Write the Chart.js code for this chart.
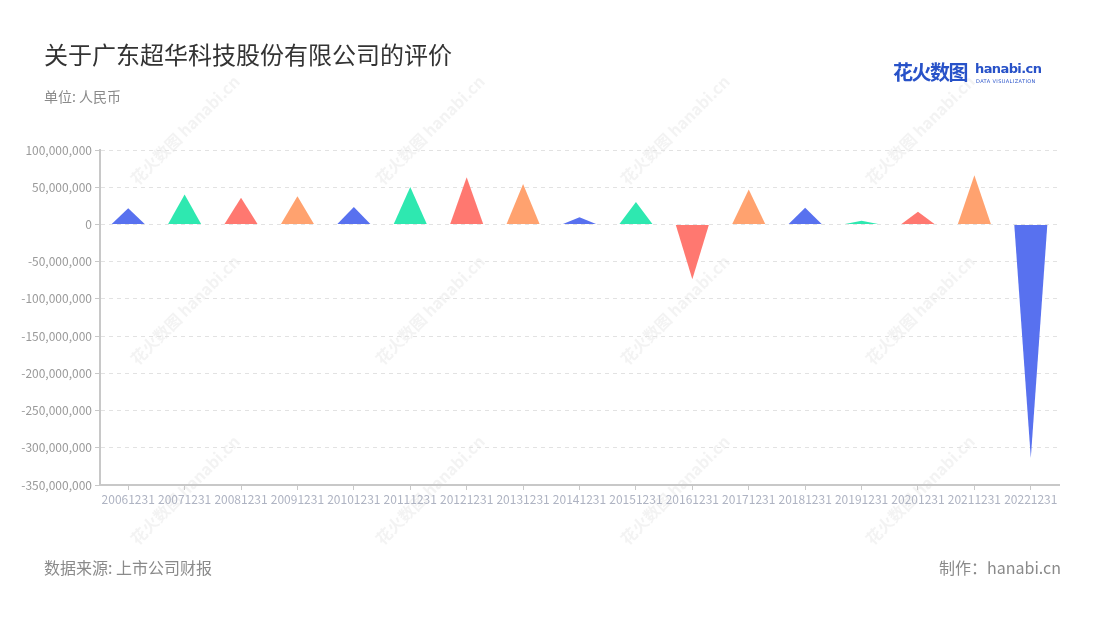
<!DOCTYPE html>
<html>
<head>
<meta charset="utf-8">
<script src="https://cdn.jsdelivr.net/npm/chart.js@4/dist/chart.umd.min.js"></script>
<style>
  html, body { margin: 0; padding: 0; background: #fff; }
  body { width: 1100px; height: 620px; position: relative; overflow: hidden;
         font-family: "Noto Sans CJK SC", "Noto Sans", sans-serif; }
  #wrap { position: absolute; left: 0; top: 0; width: 1100px; height: 620px; }
  .txt { position: absolute; white-space: nowrap; }
  #title { left: 44px; top: 36px; font-size: 24px; color: #333; }
  #unit { left: 44px; top: 86px; font-size: 14px; color: #8a8a8a; }
  #source { left: 44px; top: 555px; font-size: 16px; color: #8a8a8a; }
  #maker { right: 39px; top: 555px; font-size: 16px; color: #8a8a8a; }
  #logo { left: 893px; top: 57px; color: #2852c8; }
  #logo .cn { font-size: 20px; font-weight: bold; letter-spacing: -1.5px; }
  #logo .en { position: absolute; left: 82px; top: 4px; font-size: 13px; font-weight: bold; font-family: "DejaVu Sans", sans-serif; letter-spacing: -0.6px; }
  #logo .sub { position: absolute; left: 83px; top: 21px; font-size: 5px; font-family: "DejaVu Sans", sans-serif; letter-spacing: 0.4px; }
</style>
</head>
<body>
<div id="wrap"><canvas id="chart" width="1100" height="620"></canvas></div>
<div class="txt" id="title">关于广东超华科技股份有限公司的评价</div>
<div class="txt" id="unit">单位: 人民币</div>
<div class="txt" id="logo"><span class="cn">花火数图</span><span class="en">hanabi.cn</span><span class="sub">DATA VISUALIZATION</span></div>
<div class="txt" id="source">数据来源: 上市公司财报</div>
<div class="txt" id="maker">制作：hanabi.cn</div>
<script>
// --- DATA ---
const years = ['20061231', '20071231', '20081231', '20091231', '20101231', '20111231',
  '20121231', '20131231', '20141231', '20151231', '20161231', '20171231', '20181231',
  '20191231', '20201231', '20211231', '20221231'];
const values = [21800000, 40200000, 35700000, 37900000, 23600000, 50400000,
  63400000, 54400000, 9800000, 30300000, -73700000, 46900000, 22300000,
  4800000, 16900000, 66100000, -313700000];
const palette = ['#5871ef', '#2ee8b0', '#ff7870', '#ffa26f'];

const barColors = values.map((v, i) => palette[i % palette.length]);

// Faint diagonal watermarks behind the chart
const watermark = {
  id: 'watermark',
  beforeDraw(chart) {
    const ctx = chart.ctx;
    const cols = [185, 430, 675, 920];
    const rows = [130, 310, 490];
    ctx.save();
    ctx.fillStyle = 'rgba(200,200,200,0.22)';
    rows.forEach(ry => cols.forEach(cx => {
      ctx.save();
      ctx.translate(cx, ry);
      ctx.rotate(-Math.PI / 4);
      ctx.font = 'bold 16px "Noto Sans CJK SC"';
      ctx.textAlign = 'center';
      ctx.textBaseline = 'middle';
      ctx.fillText('花火数图 hanabi.cn', 0, 0);
      ctx.restore();
    }));
    ctx.restore();
  }
};

// Bars are drawn as triangles from each bar element's own geometry
const triangles = {
  id: 'triangles',
  afterDatasetsDraw(chart) {
    const ctx = chart.ctx;
    const meta = chart.getDatasetMeta(0);
    ctx.save();
    meta.data.forEach((bar, i) => {
      const p = bar.getProps(['x', 'y', 'base', 'width'], true);
      const half = p.width / 2;
      ctx.beginPath();
      ctx.moveTo(p.x - half, p.base);
      ctx.lineTo(p.x + half, p.base);
      ctx.lineTo(p.x, p.y);
      ctx.closePath();
      ctx.fillStyle = barColors[i];
      ctx.fill();
    });
    ctx.restore();
  }
};

new Chart(document.getElementById('chart'), {
  type: 'bar',
  data: {
    labels: years,
    datasets: [{
      data: values,
      backgroundColor: 'rgba(0,0,0,0)',
      borderWidth: 0,
      barThickness: 33
    }]
  },
  options: {
    responsive: false,
    animation: false,
    layout: { padding: { left: 0, right: 41, top: 150, bottom: 105 } },
    plugins: { legend: { display: false }, tooltip: { enabled: false } },
    scales: {
      x: {
        afterFit(scale) { scale.height = 30; },
        grid: {
          offset: false,
          drawOnChartArea: false,
          drawTicks: true,
          tickLength: 5,
          color: '#c8c8c8'
        },
        border: { color: '#c8c8c8', width: 2 },
        ticks: {
          color: '#aeb3c2',
          font: { family: '"Noto Sans CJK SC"', size: 12 },
          maxRotation: 0,
          autoSkip: false,
          padding: 2
        }
      },
      y: {
        min: -350000000,
        max: 100000000,
        afterFit(scale) { scale.width = 100; },
        grid: {
          color: '#e2e2e2',
          tickColor: '#c8c8c8',
          tickLength: 5,
          tickBorderDash: []
        },
        border: { color: '#c8c8c8', width: 2, dash: [4, 4] },
        ticks: {
          stepSize: 50000000,
          color: '#9a9a9a',
          padding: 3,
          font: { family: '"Noto Sans CJK SC"', size: 12 },
          callback: v => v.toLocaleString('en-US')
        }
      }
    }
  },
  plugins: [watermark, triangles]
});
</script>
</body>
</html>
